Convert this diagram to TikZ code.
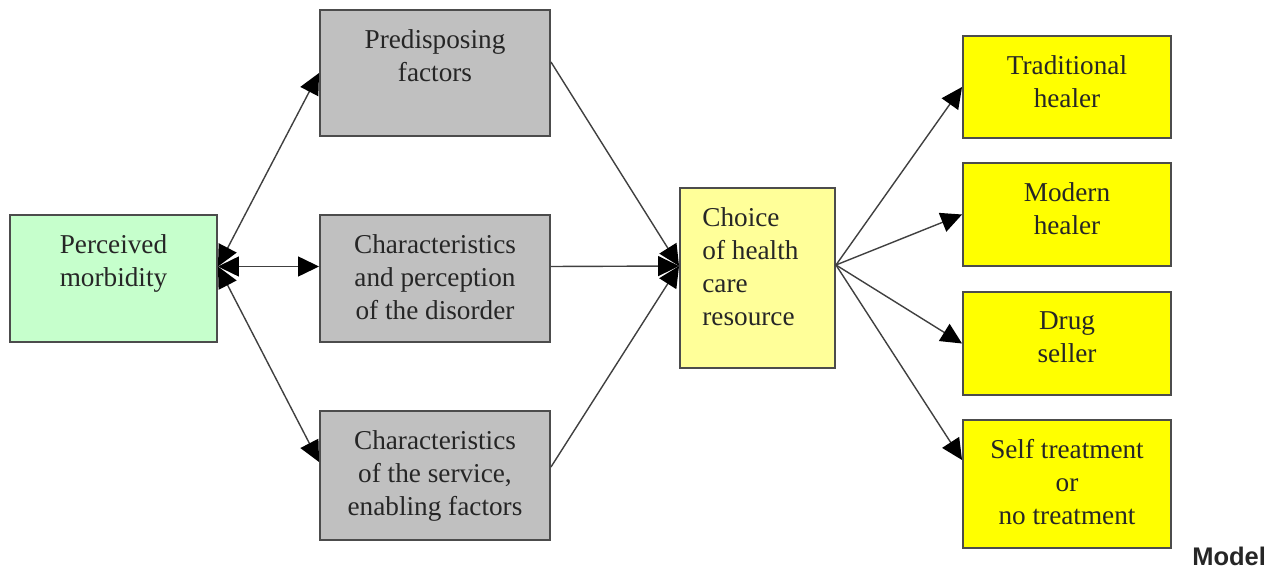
\documentclass[tikz,border=0pt]{standalone}
\usepackage{fontspec}
\setmainfont{Liberation Serif}
\setsansfont{Liberation Sans}
\usepackage{xcolor}
\usetikzlibrary{arrows.meta,positioning}
\definecolor{morbgreen}{RGB}{198,255,204}
\definecolor{factgrey}{RGB}{192,192,192}
\definecolor{choiceyel}{RGB}{255,255,153}
\definecolor{healyel}{RGB}{255,255,0}

\begin{document}
\begin{tikzpicture}[>={Triangle[length=0.42cm,width=0.4cm,color=black]},
  box/.style={draw=black!70,line width=1.1pt,inner sep=0pt},
  boxtext/.style={inner sep=0pt,align=center,text=black!85,font=\fontsize{15.5}{18.8}\selectfont},
  link/.style={draw=black!75,line width=0.8pt}]
  \useasboundingbox (0,0) rectangle (25.5,-11.38);
  \node[box,fill=morbgreen,minimum width=4.14cm,minimum height=2.54cm] (morb) at (2.27,-5.57) {};
  \node[box,fill=factgrey,minimum width=4.6cm,minimum height=2.52cm] (pred) at (8.7,-1.46) {};
  \node[box,fill=factgrey,minimum width=4.6cm,minimum height=2.54cm] (dis) at (8.7,-5.57) {};
  \node[box,fill=factgrey,minimum width=4.6cm,minimum height=2.58cm] (serv) at (8.7,-9.51) {};
  \node[box,fill=choiceyel,minimum width=3.1cm,minimum height=3.6cm] (choice) at (15.15,-5.56) {};
  \node[box,fill=healyel,minimum width=4.16cm,minimum height=2.04cm] (trad) at (21.34,-1.74) {};
  \node[box,fill=healyel,minimum width=4.16cm,minimum height=2.06cm] (modern) at (21.34,-4.29) {};
  \node[box,fill=healyel,minimum width=4.16cm,minimum height=2.06cm] (drug) at (21.34,-6.87) {};
  \node[box,fill=healyel,minimum width=4.16cm,minimum height=2.56cm] (self) at (21.34,-9.68) {};

  \node[boxtext,below=0.4cm of morb.north] (morb-t) {Perceived\\morbidity};
  \node[boxtext,below=0.4cm of pred.north] (pred-t) {Predisposing\\factors};
  \node[boxtext,below=0.4cm of dis.north] (dis-t) {Characteristics\\and perception\\of the disorder};
  \node[boxtext,below=0.4cm of serv.north] (serv-t) {Characteristics\\of the service,\\enabling factors};
  \node[boxtext,align=left,anchor=north west] (choice-t) at ([xshift=0.46cm,yshift=-0.4cm]choice.north west) {Choice\\of health\\care\\resource};
  \node[boxtext,below=0.4cm of trad.north] (trad-t) {Traditional\\healer};
  \node[boxtext,below=0.4cm of modern.north] (modern-t) {Modern\\healer};
  \node[boxtext,below=0.4cm of drug.north] (drug-t) {Drug\\seller};
  \node[boxtext,below=0.4cm of self.north] (self-t) {Self treatment\\or\\no treatment};

  \coordinate (morb-o) at ([yshift=0.24cm]morb.east);
  \coordinate (choice-i) at ([yshift=0.24cm]choice.west);
  \coordinate (choice-o) at ([yshift=0.26cm]choice.east);

  \draw[link,<->] (morb-o) -- (pred.west);
  \draw[link,<->] (morb-o) -- ([yshift=0.24cm]dis.west);
  \draw[link,<->] (morb-o) -- ([yshift=0.27cm]serv.west);
  \draw[link,->] ([yshift=0.22cm]pred.east) -- (choice-i);
  \draw[link,->] ([yshift=0.24cm]dis.east) -- (choice-i);
  \draw[link,->] ([yshift=0.17cm]serv.east) -- (choice-i);
  \draw[link,->] (choice-o) -- (trad.west);
  \draw[link,->] (choice-o) -- (modern.west);
  \draw[link,->] (choice-o) -- (drug.west);
  \draw[link,->] (choice-o) -- ([yshift=0.48cm]self.west);

  \node[anchor=base west,inner sep=0pt,text=black!85,font=\sffamily\bfseries\fontsize{14.5}{17}\selectfont] (model) at (23.84,-11.3) {Model};
\end{tikzpicture}
\end{document}
